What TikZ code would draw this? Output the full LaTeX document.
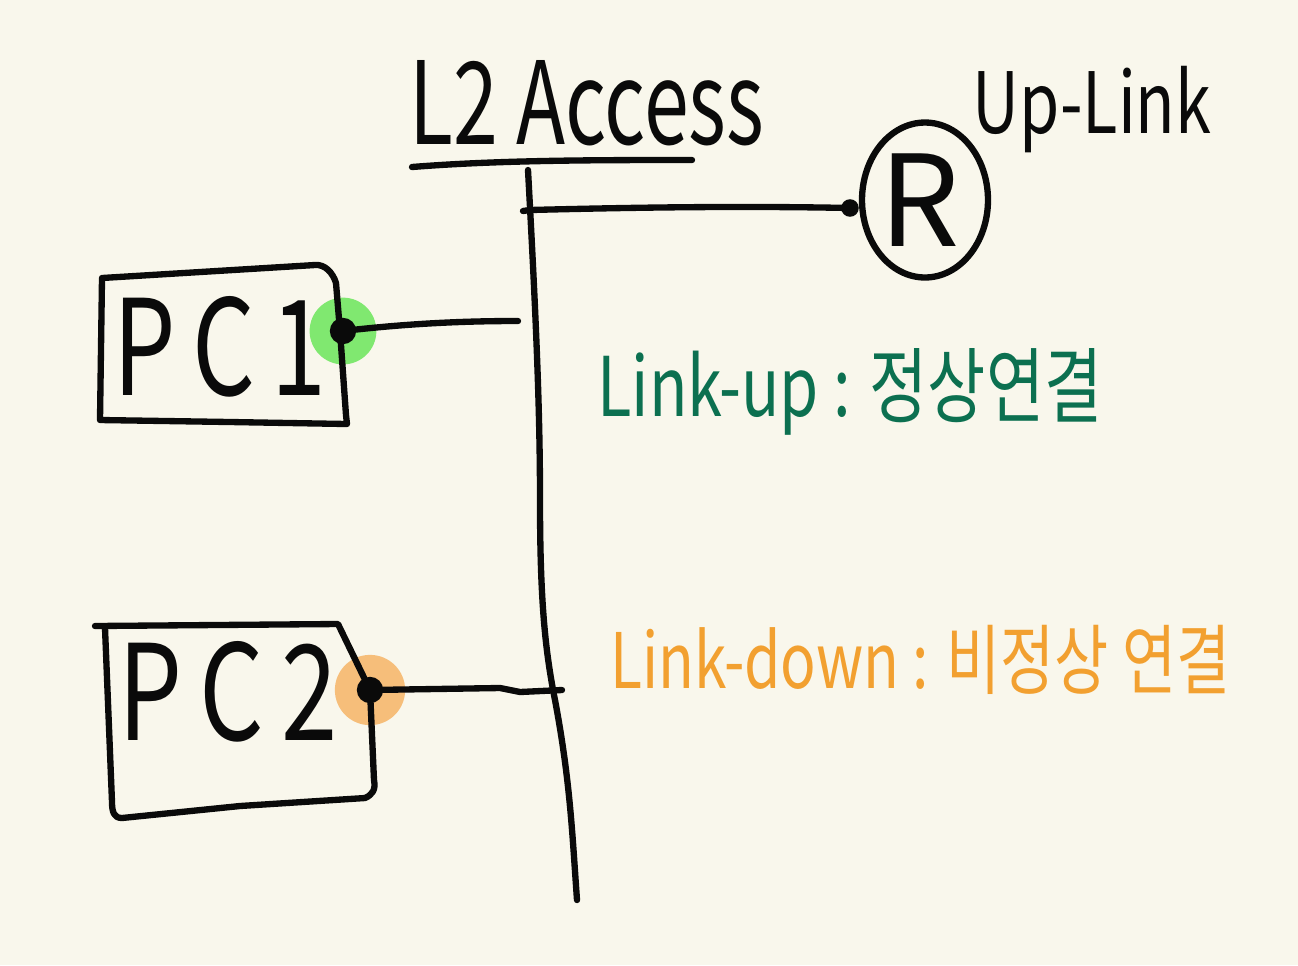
\documentclass[tikz,border=0pt]{standalone}
\usepackage{fontspec}
\setmainfont{Noto Sans CJK KR}
\usepackage{graphicx}
\usetikzlibrary{shapes.geometric}
\definecolor{paper}{RGB}{249,247,236}
\definecolor{ink}{RGB}{10,10,10}
\definecolor{upgreen}{RGB}{12,112,80}
\definecolor{downorange}{RGB}{242,160,48}
\definecolor{glowgreen}{RGB}{128,232,112}
\definecolor{gloworange}{RGB}{246,190,122}
\tikzset{
  pen/.style={draw=ink, line width=3.6pt, line cap=round, line join=round},
  lbl/.style={inner sep=0pt, text=ink},
  portdot/.style={circle, fill=ink, inner sep=0pt, minimum size=15pt},
}
\begin{document}
\begin{tikzpicture}[x=0.02cm, y=-0.02cm]
\fill[paper] (0,0) rectangle (1298,965);
\useasboundingbox (0,0) rectangle (1298,965);

% title
\node[lbl] (title) at (587,103) {\fontsize{45}{50}\selectfont\scalebox{1.02}[1.45]{L2 Access}};
\draw[pen] (412,167) .. controls (500,160) and (600,160) .. (692,160);

% bus
\coordinate (busTop) at (528,170);
\coordinate (busA) at (530,210);
\coordinate (busB) at (518,321);
\coordinate (busC) at (562,690);
\draw[pen] (busTop) .. controls (535,300) and (540,400) .. (540,500)
  .. controls (540,600) and (545,650) .. (555,700)
  .. controls (570,780) and (572,830) .. (577,900);

% router
\node[draw=ink, line width=3.6pt, ellipse, minimum width=2.52cm, minimum height=3.1cm, inner sep=0pt] (R) at (925,200) {};
\node[lbl] (Rtxt) at (920,200) {\fontsize{72}{80}\selectfont R};
\node[lbl] (uplink) at (1092,110) {\fontsize{37}{44}\selectfont\scalebox{1}[1.3]{Up-Link}};
\node[circle, fill=ink, inner sep=0pt, minimum size=10pt] (rdot) at (850,208) {};
\draw[pen] (523,211) -- (busA) .. controls (650,207) and (750,206) .. (rdot.center);

% PC1
\node[circle, fill=glowgreen, inner sep=0pt, minimum size=38pt] (g1) at (343,331) {};
\draw[pen] (102,278) -- (315,265) .. controls (325,264) and (333,273) .. (336,283)
  -- (340,331) -- (346,415) -- (347,424) -- (230,422) -- (100,420) -- cycle;
\node[lbl] (pc1) at (220,347) {\fontsize{72}{80}\selectfont\scalebox{0.78}[1.05]{P\,C\,1}};
\node[portdot] (p1) at (343,331) {};
\draw[pen] (p1.center) .. controls (420,322) and (480,321) .. (busB);

% PC2
\node[circle, fill=gloworange, inner sep=0pt, minimum size=40pt] (g2) at (370,690) {};
\draw[pen] (95,626) -- (338,624) -- (370,690) -- (374,780) .. controls (376,790) and (372,795) .. (365,798)
  -- (240,806) -- (122,818) .. controls (114,818) and (112,812) .. (112,802) -- (105,628);
\node[lbl] (pc2) at (228,692) {\fontsize{72}{80}\selectfont\scalebox{0.8}[1.05]{P\,C\,2}};
\node[portdot] (p2) at (370,690) {};
\draw[pen] (p2.center) -- (500,688) -- (520,692) -- (busC);

% legend
\node[lbl, text=upgreen, anchor=west] (lup) at (597,392) {\fontsize{36}{42}\selectfont\scalebox{1}[1.3]{Link-up : 정상연결}};
\node[lbl, text=downorange, anchor=west] (ldown) at (610,660) {\fontsize{33.5}{40}\selectfont\scalebox{1}[1.3]{Link-down : 비정상 연결}};
\end{tikzpicture}
\end{document}
